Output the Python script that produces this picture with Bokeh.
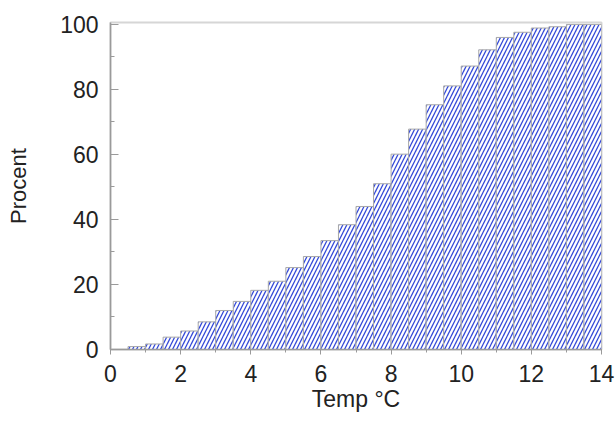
from bokeh.plotting import figure
from bokeh.models import Range1d, FixedTicker, ColumnDataSource
from bokeh.embed import file_html
from bokeh.resources import INLINE

# Data: cumulative percentage per 0.5 °C temperature bin
bin_start = [0.5, 1.0, 1.5, 2.0, 2.5, 3.0, 3.5, 4.0, 4.5, 5.0, 5.5, 6.0, 6.5, 7.0,
             7.5, 8.0, 8.5, 9.0, 9.5, 10.0, 10.5, 11.0, 11.5, 12.0, 12.5, 13.0, 13.5]
bin_width = 0.5
cum_percent = [0.9, 1.7, 3.8, 5.7, 8.5, 12.0, 14.8, 18.2, 21.0, 25.2, 28.6, 33.5, 38.4, 44.0,
               51.0, 60.1, 67.8, 75.3, 81.1, 87.2, 92.2, 96.0, 97.6, 98.9, 99.3, 100.0, 100.0]
x_ticks = [0, 2, 4, 6, 8, 10, 12, 14]
y_ticks = [0, 20, 40, 60, 80, 100]

src = ColumnDataSource(dict(
    left=bin_start,
    right=[b + bin_width for b in bin_start],
    top=cum_percent,
    bottom=[0] * len(bin_start),
))

FONT = "Liberation Sans"

p = figure(width=615, height=425, output_backend="svg", toolbar_location=None,
           x_range=Range1d(0, 14), y_range=Range1d(0, 100.6),
           min_border_left=110, min_border_right=14, min_border_top=22, min_border_bottom=76)

p.quad(left="left", right="right", top="top", bottom="bottom", source=src,
       fill_color="white", line_color="#a8a8a8", line_width=1,
       hatch_pattern="/", hatch_color="#3348d8", hatch_weight=1.3, hatch_scale=8)

p.xgrid.visible = False
p.ygrid.visible = False
p.outline_line_color = "#d6d6d6"
p.outline_line_width = 2
p.background_fill_color = "white"
p.border_fill_color = "white"

# X axis
xa = p.xaxis[0]
xa.ticker = FixedTicker(ticks=x_ticks, minor_ticks=list(range(0, 15)))
xa.axis_label = "Temp °C"
xa.axis_line_color = "#9a9a9a"
xa.axis_line_width = 1.5
xa.major_tick_line_color = "#9a9a9a"
xa.minor_tick_line_color = "#9a9a9a"
xa.major_tick_out = 5
xa.major_tick_in = 0
xa.minor_tick_out = 3
xa.minor_tick_in = 0
xa.major_label_text_font = FONT
xa.major_label_text_font_size = "23px"
xa.major_label_text_color = "#222222"
xa.major_label_standoff = 10
xa.axis_label_text_font = FONT
xa.axis_label_text_font_size = "23px"
xa.axis_label_text_font_style = "normal"
xa.axis_label_text_color = "#222222"
xa.axis_label_standoff = 1

# Y axis
ya = p.yaxis[0]
ya.ticker = FixedTicker(ticks=y_ticks, minor_ticks=list(range(0, 101, 10)))
ya.axis_label = "Procent"
ya.axis_line_color = "#9a9a9a"
ya.axis_line_width = 1.5
ya.major_tick_line_color = "#9a9a9a"
ya.minor_tick_line_color = "#9a9a9a"
ya.major_tick_out = 0
ya.major_tick_in = 8
ya.minor_tick_out = 0
ya.minor_tick_in = 4
ya.major_label_text_font = FONT
ya.major_label_text_font_size = "23px"
ya.major_label_text_color = "#222222"
ya.major_label_standoff = 12
ya.axis_label_text_font = FONT
ya.axis_label_text_font_size = "22px"
ya.axis_label_text_font_style = "normal"
ya.axis_label_text_color = "#222222"
ya.axis_label_standoff = 26

open("out.html", "w").write(file_html(p, INLINE))
